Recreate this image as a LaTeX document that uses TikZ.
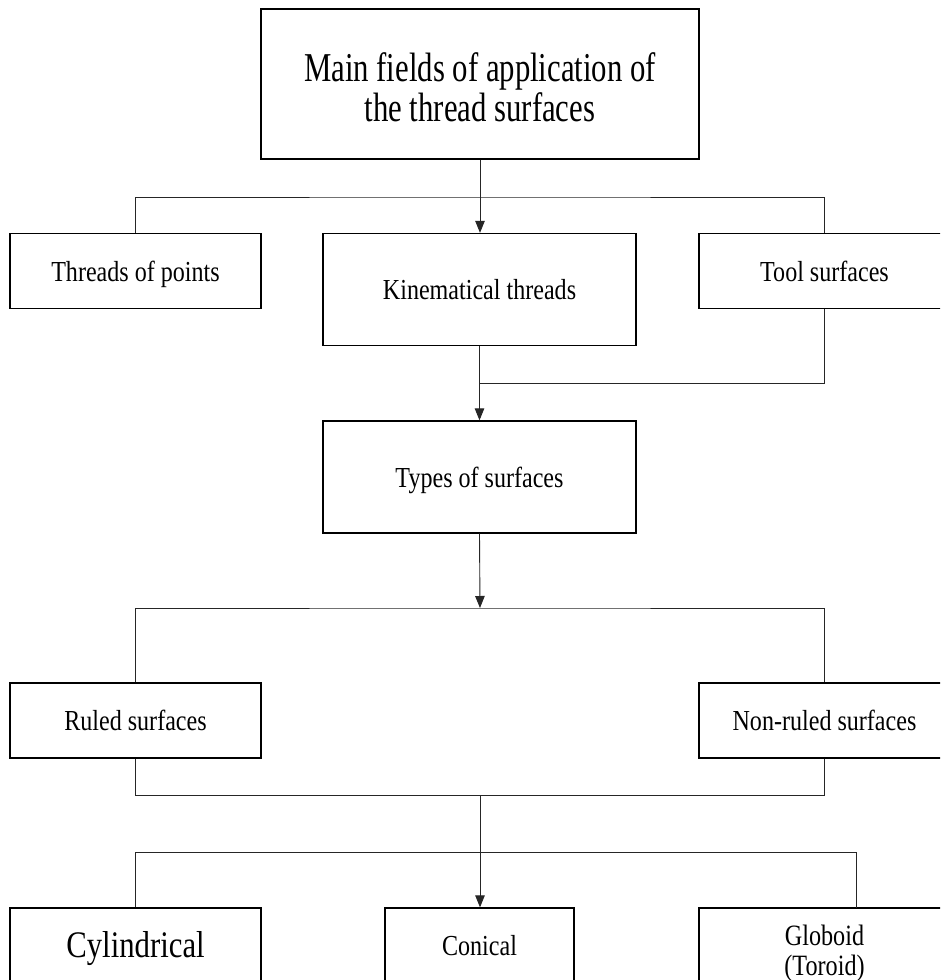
\documentclass[tikz,border=0pt]{standalone}
\usepackage{fontspec}
\setmainfont{Liberation Serif}
\usetikzlibrary{arrows.meta}
\newcommand{\cz}[4]{\scalebox{#1}[1]{\fontsize{#2}{#3}\selectfont\begin{tabular}{@{}c@{}}#4\end{tabular}}}
\newcommand{\sm}[1]{\cz{0.83}{29}{32}{#1}}
\tikzset{
  box/.style={draw=black, line width=1.3pt, rectangle, inner sep=0pt},
  txt/.style={inner sep=0pt, yshift=#1},
  conn/.style={draw=black!85, line width=0.9pt},
  arr/.style={conn, -{Triangle[length=12pt, width=9.5pt]}}
}
\begin{document}
\begin{tikzpicture}[x=1pt, y=-1pt]
\useasboundingbox (0,0) rectangle (940,980);
\clip (0,0) rectangle (940,980);
\fill[white] (0,0) rectangle (940,980);

\node[box, minimum width=438pt, minimum height=150pt,
  label={[txt=-9pt]center:\cz{0.75}{41}{40}{Main fields of application of\\the thread surfaces}}] (top) at (480,84) {};

\node[box, minimum width=251pt, minimum height=75pt,
  label={[txt=-4pt]center:\sm{Threads of points}}] (threads) at (135.5,271) {};
\node[box, minimum width=313pt, minimum height=112pt,
  label={[txt=-4pt]center:\sm{Kinematical threads}}] (kin) at (479.5,289.5) {};
\node[box, minimum width=251pt, minimum height=75pt,
  label={[txt=-4pt]center:\sm{Tool surfaces}}] (tool) at (824.5,271) {};

\node[box, minimum width=313pt, minimum height=112pt,
  label={[txt=-4pt]center:\sm{Types of surfaces}}] (types) at (479.5,477) {};

\node[box, minimum width=251pt, minimum height=75pt,
  label={[txt=-4pt]center:\sm{Ruled surfaces}}] (ruled) at (135.5,720.5) {};
\node[box, minimum width=251pt, minimum height=75pt,
  label={[txt=-4pt]center:\sm{Non-ruled surfaces}}] (nonruled) at (824.5,720.5) {};

\node[box, minimum width=251pt, minimum height=76pt,
  label={[txt=-3pt]center:\cz{0.82}{37.5}{40}{Cylindrical}}] (cyl) at (135.5,946) {};
\node[box, minimum width=189pt, minimum height=76pt,
  label={[txt=-3pt]center:\sm{Conical}}] (con) at (479.5,946) {};
\node[box, minimum width=251pt, minimum height=76pt,
  label={[txt=-8pt]center:\cz{0.82}{29.5}{30}{Globoid\\(Toroid)}}] (glob) at (824.5,946) {};

\coordinate (b1) at (480,197);
\coordinate (j1) at (480,383);
\coordinate (b2) at (480,608);
\coordinate (b3) at (480,795);
\coordinate (b4) at (480,852);
\coordinate (gtop) at (856,908);

\draw[arr] (top.south) -- (top.south |- kin.north);
\draw[conn] (threads.north) |- (b1) -| (tool.north);
\draw[arr] (kin.south) -- (kin.south |- types.north);
\draw[conn] (tool.south) |- (j1);
\draw[arr] (types.south) -- (b2);
\draw[conn] (ruled.north) |- (b2) -| (nonruled.north);
\draw[conn] (ruled.south) |- (b3) -| (nonruled.south);
\draw[arr] (b3) -- (b3 |- con.north);
\draw[conn] (cyl.north) |- (b4) -| (gtop);
\end{tikzpicture}
\end{document}
